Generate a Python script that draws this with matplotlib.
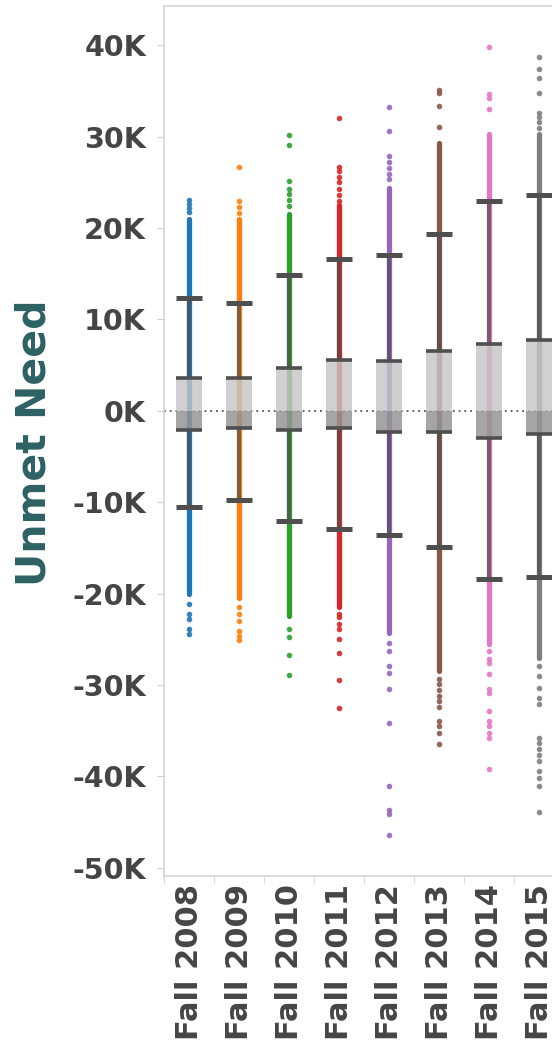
import matplotlib.pyplot as plt
import numpy as np

terms = ['Fall 2008', 'Fall 2009', 'Fall 2010', 'Fall 2011',
         'Fall 2012', 'Fall 2013', 'Fall 2014', 'Fall 2015']
colors = ['#1f77b4', '#ff7f0e', '#2ca02c', '#d62728',
          '#9467bd', '#8c564b', '#e377c2', '#7f7f7f']

# box plot statistics of unmet need per term (dollars)
whisker_low = [-10500, -9800, -12100, -12900, -13600, -14900, -18400, -18200]
q1 = [-2100, -1900, -2100, -1900, -2300, -2300, -3000, -2500]
median = [0, 0, 0, 0, 0, 0, 0, 0]
q3 = [3600, 3600, 4700, 5600, 5400, 6500, 7300, 7800]
whisker_high = [12300, 11800, 14900, 16600, 17100, 19300, 23000, 23600]

# span where the student marks overlap into one solid strip
dense_low = [-20000, -20500, -22500, -21500, -24300, -28500, -25500, -27000]
dense_high = [21000, 21000, 21500, 22500, 24400, 29300, 30300, 30300]

# single students above / below the solid strip
sparse_2008 = [21800, 22200, 22600, 23100,
               -21100, -22200, -22800, -23900, -24400]
sparse_2009 = [21600, 22300, 23000, 26700,
               -21500, -22200, -23000, -24100, -24600, -25100]
sparse_2010 = [22400, 23100, 23700, 24300, 25200, 29100, 30200,
               -23900, -24700, -26700, -28900]
sparse_2011 = [23000, 23600, 24300, 25000, 25600, 26200, 26700, 32000,
               -22200, -22600, -23300, -23900, -25000, -26500, -29400, -32500]
sparse_2012 = [25400, 25900, 26600, 27200, 27900, 30600, 33300,
               -25400, -26300, -27900, -28700, -30400, -34200,
               -41100, -43700, -44100, -46400]
sparse_2013 = [31100, 33400, 34800, 35100,
               -29300, -29900, -30600, -31200, -31800, -32400,
               -33900, -34500, -35200, -36500]
sparse_2014 = [33000, 34200, 34700, 39800,
               -26300, -27100, -27600, -28800, -30400, -30900, -32800,
               -33900, -34500, -35200, -35800, -39200]
sparse_2015 = [31000, 31600, 32100, 32600, 34800, 36400, 37400, 38700,
               -27900, -29000, -30300, -31400, -32100, -35800, -36400,
               -37000, -37700, -38300, -39400, -40200, -41000, -43900]
sparse_points = [sparse_2008, sparse_2009, sparse_2010, sparse_2011,
                 sparse_2012, sparse_2013, sparse_2014, sparse_2015]

y_ticks = list(range(-50000, 40001, 10000))

fig = plt.figure(figsize=(5.52, 10.46), dpi=100)
ax = fig.add_axes([164 / 552, 1 - 876 / 1046, 400 / 552, 870 / 1046])

x = np.arange(len(terms))
box_w = 0.52

# student marks: solid strip plus the loose points
ax.vlines(x, dense_low, dense_high, colors=colors, linewidth=3.8,
          capstyle='round', zorder=2)
for i, pts in enumerate(sparse_points):
    ax.scatter([x[i]] * len(pts), pts, s=16, color=colors[i],
               linewidths=0, alpha=0.9, zorder=2)

ax.axhline(0, color='#555555', linestyle=(0, (1, 2.2)), linewidth=1.3,
           zorder=2.5)

# two-tone box split at the median
ax.bar(x, np.subtract(q3, median), bottom=median, width=box_w,
       color='#c6c6c6', alpha=0.82, linewidth=0, zorder=3)
ax.bar(x, np.subtract(median, q1), bottom=q1, width=box_w,
       color='#959595', alpha=0.85, linewidth=0, zorder=3)

dark = '#4f4f4f'
ax.vlines(x, q3, whisker_high, colors=dark, linewidth=2.9, alpha=0.72,
          zorder=4)
ax.vlines(x, whisker_low, q1, colors=dark, linewidth=2.9, alpha=0.72,
          zorder=4)
ax.hlines(q3, x - box_w / 2, x + box_w / 2, colors=dark, linewidth=2.6,
          capstyle='butt', zorder=5)
ax.hlines(q1, x - box_w / 2, x + box_w / 2, colors=dark, linewidth=2.6,
          capstyle='butt', zorder=5)
ax.hlines(whisker_high, x - box_w / 2, x + box_w / 2, colors=dark,
          linewidth=3.6, capstyle='butt', zorder=5)
ax.hlines(whisker_low, x - box_w / 2, x + box_w / 2, colors=dark,
          linewidth=3.6, capstyle='butt', zorder=5)

ax.set_xlim(-0.5, len(terms) - 0.5)
ax.set_ylim(-50900, 44300)

ax.set_yticks(y_ticks)
ax.set_yticklabels([f'{int(v / 1000)}K' for v in y_ticks],
                   fontsize=20.5, fontweight='bold', color='#454545')
ax.set_xticks(x)
ax.set_xticklabels(terms, rotation=90, fontsize=22, fontweight='bold',
                   color='#454545')
ax.set_xticks(np.arange(-0.5, len(terms), 1), minor=True)
ax.tick_params(axis='x', which='major', length=0, pad=6)
ax.tick_params(axis='x', which='minor', length=5, color='#cfcfcf')
ax.tick_params(axis='y', length=5, color='#cfcfcf', pad=8)

for side in ['left', 'top', 'bottom', 'right']:
    ax.spines[side].set_color('#d4d4d4')
    ax.spines[side].set_linewidth(1.2)

fig.text(35 / 552, 1 - 443 / 1046, 'Unmet Need', rotation=90,
         ha='center', va='center', fontsize=29.5, fontweight='bold',
         color='#2d6163')

fig.savefig('out.png', dpi=100, facecolor='white')
